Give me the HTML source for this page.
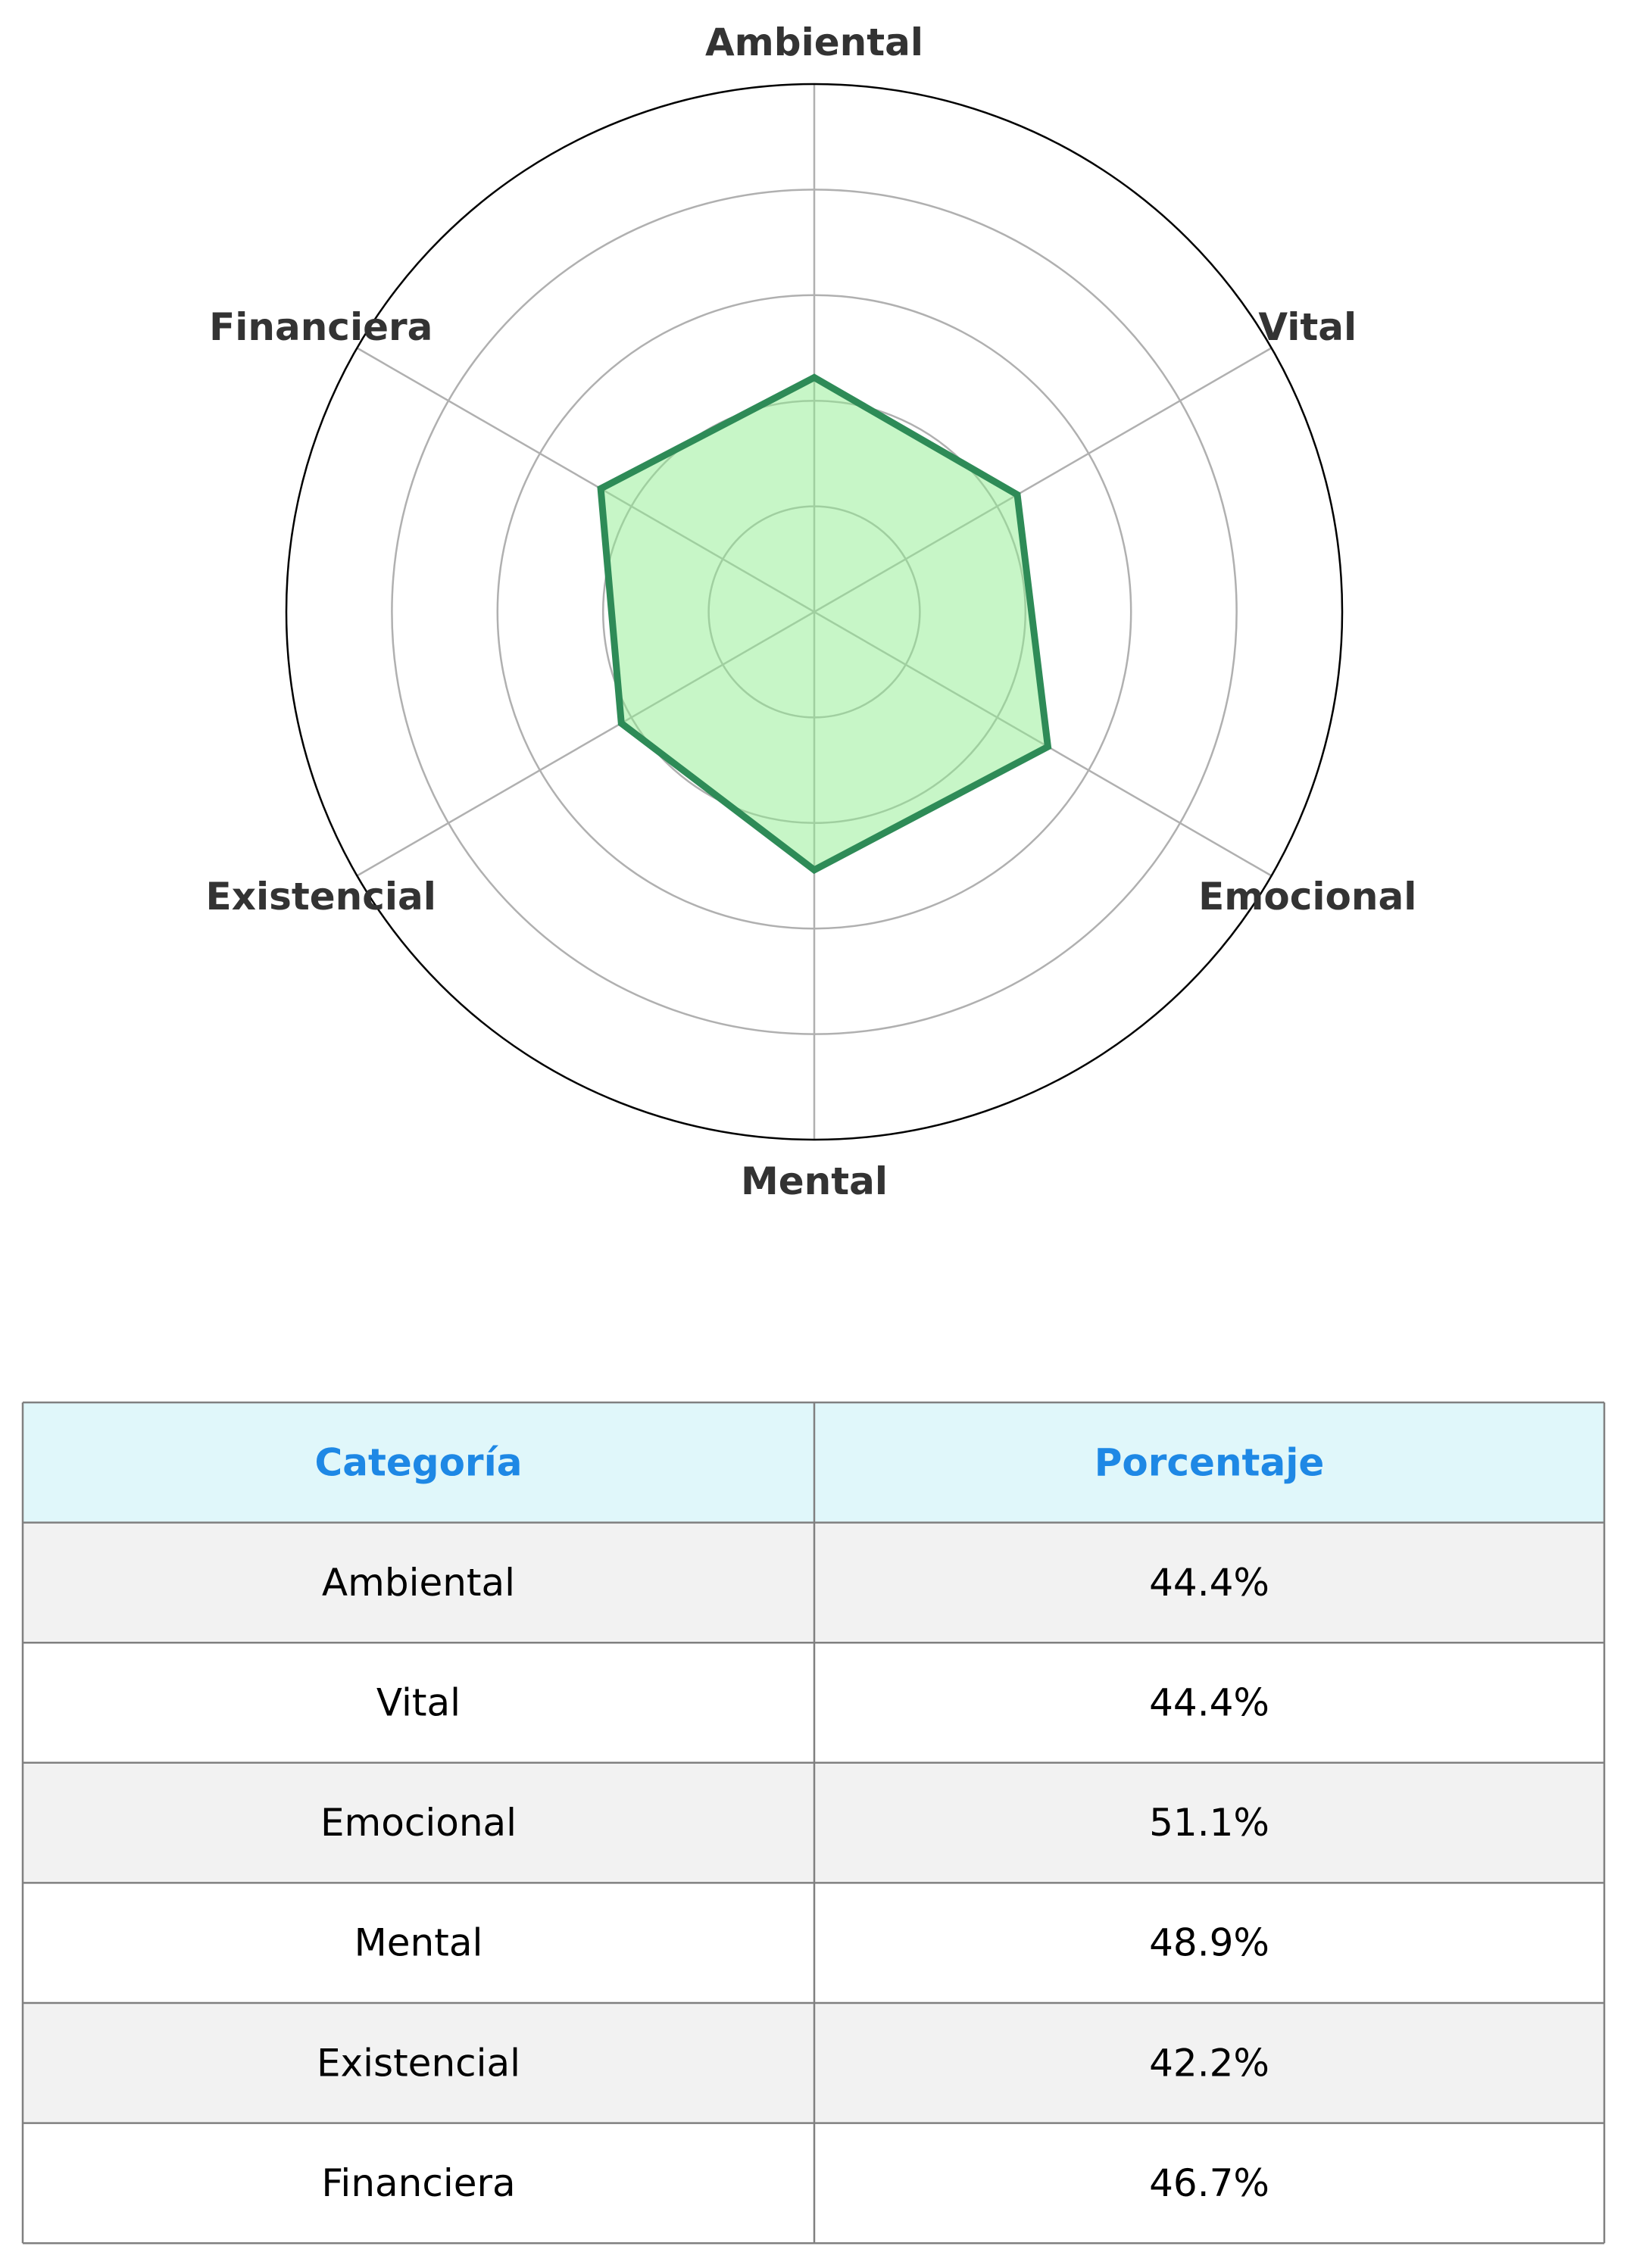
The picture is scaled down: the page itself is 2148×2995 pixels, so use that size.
<!DOCTYPE html>
<html><head><meta charset="utf-8"><style>
html,body{margin:0;padding:0;background:#fff;width:2148px;height:2995px;overflow:hidden}
svg{display:block}
</style></head><body>
<svg id="chart" width="2148" height="2995" xmlns="http://www.w3.org/2000/svg" font-family="'DejaVu Sans','Liberation Sans',sans-serif"></svg>
<script>
const categories = ["Ambiental","Vital","Emocional","Mental","Existencial","Financiera"];
const values = [44.4, 44.4, 51.1, 48.9, 42.2, 46.7];
const ringTicks = [20, 40, 60, 80];
const maxValue = 100;

const NS = "http://www.w3.org/2000/svg";
const svg = document.getElementById("chart");
const cx = 1075, cy = 808, R = 697;
function rScale(v){ return v / maxValue * R; }
function angle(i){ return -Math.PI/2 + i * 2*Math.PI/categories.length; }
function pt(i, v){ const a = angle(i), r = rScale(v); return [cx + r*Math.cos(a), cy + r*Math.sin(a)]; }
function mk(tag, attrs){ const e = document.createElementNS(NS, tag); for (const k in attrs) e.setAttribute(k, attrs[k]); svg.appendChild(e); return e; }

ringTicks.forEach(t => {
  const c = mk("circle", {cx:cx, cy:cy, r:rScale(t), fill:"none", stroke:"#b0b0b0", "stroke-width":2.5});
  
  
});
categories.forEach((c, i) => {
  const [x, y] = pt(i, maxValue);
  const l = mk("line", {x1:cx, y1:cy, x2:x, y2:y, stroke:"#b0b0b0", "stroke-width":2.5});
  
  
});
const outer = mk("circle", {cx:cx, cy:cy, r:R, fill:"none", stroke:"#000", "stroke-width":2.5});



const pts = values.map((v, i) => pt(i, v).join(",")).join(" ");
const poly = mk("polygon", {points:pts, fill:"#90ee90", "fill-opacity":0.5, stroke:"#2e8b57", "stroke-width":9, "stroke-linejoin":"miter"});



categories.forEach((c, i) => {
  const a = angle(i), r = 752;
  const t = mk("text", {x:cx + r*Math.cos(a), y:cy + r*Math.sin(a), "text-anchor":"middle", "dominant-baseline":"central", "font-size":50, "font-weight":"bold", fill:"#333"});
  t.textContent = c;
  
  
});

// table
const tx = 30, tw = 2088, ty = 1852, rh = 158.6, colX = 1075;
const hdr = mk("rect", {x:tx, y:ty, width:tw, height:rh, fill:"#e0f7fa"});


values.forEach((v, i) => {
  const r = mk("rect", {x:tx, y:ty + rh*(i+1), width:tw, height:rh, fill: i % 2 === 0 ? "#f2f2f2" : "#ffffff"});
  
  
});
for (let i = 0; i <= values.length + 1; i++) {
  const l = mk("line", {x1:tx, x2:tx+tw, y1:ty + rh*i, y2:ty + rh*i, stroke:"#808080", "stroke-width":2.5});
  
  
}
[tx, colX, tx+tw].forEach(x => {
  const l = mk("line", {x1:x, x2:x, y1:ty, y2:ty + rh*(values.length+1), stroke:"#808080", "stroke-width":2.5});
  
  
});
const c1 = (tx + colX)/2, c2 = (colX + tx + tw)/2;
[["Categoría", c1], ["Porcentaje", c2]].forEach(([s, x]) => {
  const t = mk("text", {x:x, y:ty + rh/2, "text-anchor":"middle", "dominant-baseline":"central", "font-size":50, "font-weight":"bold", fill:"#1e88e5"});
  t.textContent = s;
  
  
});
categories.forEach((c, i) => {
  const y = ty + rh*(i+1.5);
  const a = mk("text", {x:c1, y:y, "text-anchor":"middle", "dominant-baseline":"central", "font-size":50, fill:"#000"});
  a.textContent = c;
  
  
  const b = mk("text", {x:c2, y:y, "text-anchor":"middle", "dominant-baseline":"central", "font-size":50, fill:"#000"});
  b.textContent = values[i].toFixed(1) + "%";
  
  
});
</script>
</body></html>
